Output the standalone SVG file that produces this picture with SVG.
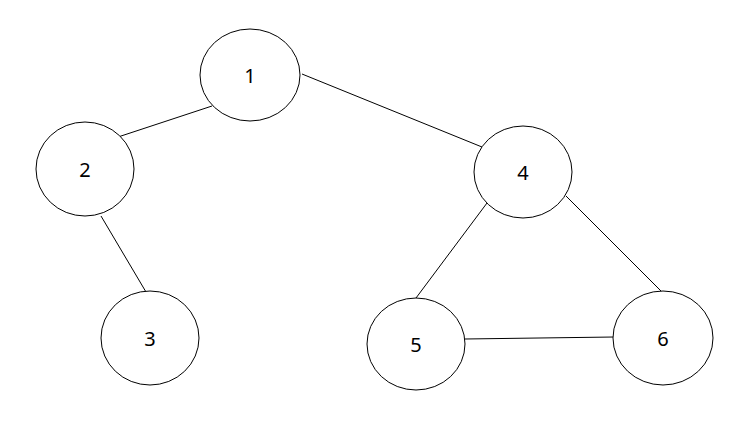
<svg xmlns="http://www.w3.org/2000/svg" width="751" height="442" viewBox="0 0 751 442">
<style>
.n ellipse{fill:#fff;stroke:#000;stroke-width:1}
.n text{font-family:"Noto Sans","Open Sans",sans-serif;font-size:20px;text-anchor:middle;dominant-baseline:central;fill:#000}
#edges line{stroke:#000;stroke-width:1}
</style>
<rect width="751" height="442" fill="#fff"/>
<g id="edges">
<line x1="212" y1="106" x2="118" y2="137"/>
<line x1="302" y1="74" x2="482" y2="147"/>
<line x1="101" y1="216" x2="146" y2="292"/>
<line x1="487" y1="203" x2="416" y2="298"/>
<line x1="566" y1="196" x2="662" y2="292"/>
<line x1="465" y1="339" x2="614" y2="337"/>
</g>
<g id="node1" class="n"><ellipse cx="250" cy="75" rx="50" ry="46"/><text x="250" y="75">1</text></g>
<g id="node2" class="n"><ellipse cx="85" cy="169" rx="49" ry="47"/><text x="85" y="169">2</text></g>
<g id="node3" class="n"><ellipse cx="150" cy="338" rx="49" ry="47"/><text x="150" y="338">3</text></g>
<g id="node4" class="n"><ellipse cx="523" cy="172" rx="49" ry="46"/><text x="523" y="172">4</text></g>
<g id="node5" class="n"><ellipse cx="416" cy="344" rx="49" ry="46"/><text x="416" y="344">5</text></g>
<g id="node6" class="n"><ellipse cx="663" cy="338" rx="50" ry="47"/><text x="663" y="338">6</text></g>
</svg>
